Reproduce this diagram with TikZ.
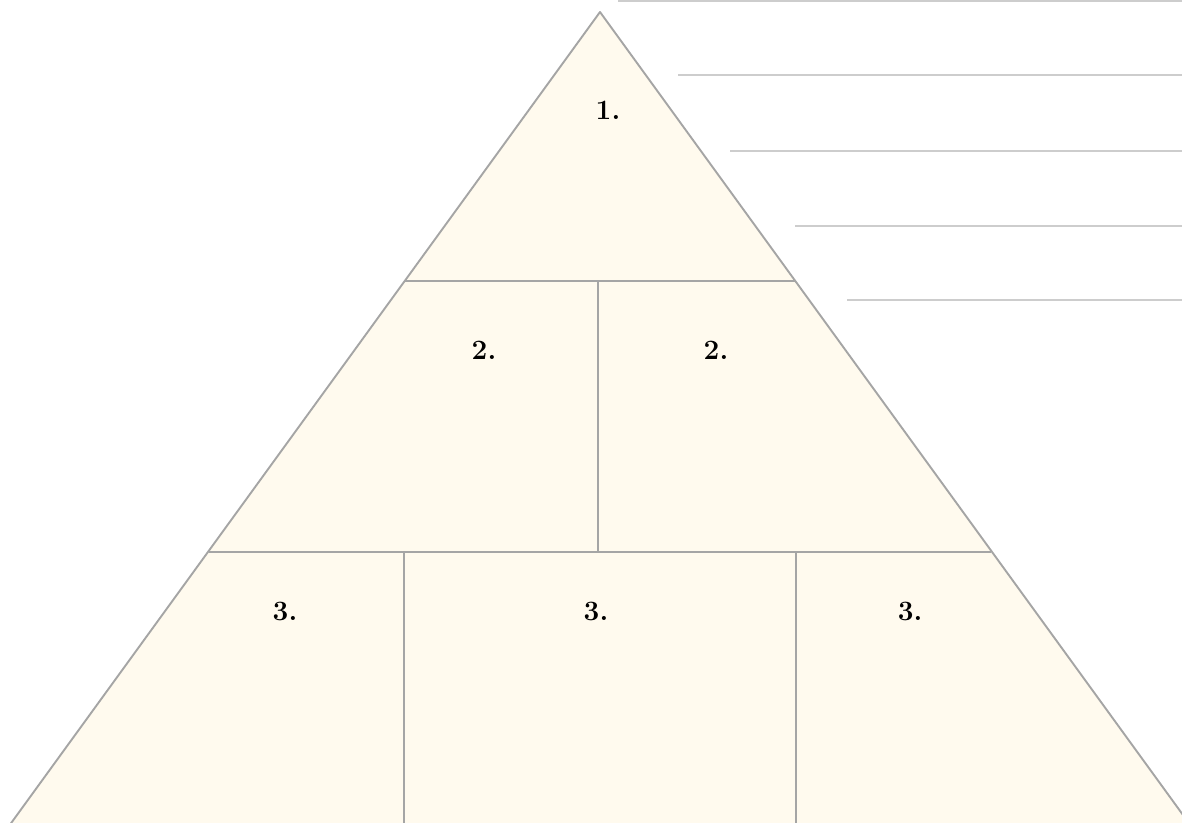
\documentclass[tikz,border=0pt]{standalone}
\usepackage{fontspec}
\usepackage{tikz}
\usetikzlibrary{positioning,calc}

\definecolor{pyrfill}{RGB}{255,250,238}
\definecolor{pyredge}{RGB}{165,165,165}
\definecolor{ruleline}{RGB}{205,205,205}

\begin{document}
\begin{tikzpicture}[x=1pt, y=-1pt,
    edge/.style={draw=pyredge, line width=1.9pt, line join=round},
    tier/.style={font=\fontsize{28}{32}\selectfont\bfseries, inner sep=0pt},
    rule/.style={draw=ruleline, line width=2pt},
  ]
  \useasboundingbox (0,0) rectangle (1182,822);
  \clip (0,0) rectangle (1182,822);

  % pyramid outline
  \coordinate (apex) at (600,12);
  \coordinate (bl) at (9,826);
  \coordinate (br) at (1191,826);
  \filldraw[edge, fill=pyrfill] (apex) -- (br) -- (bl) -- cycle;

  % tiers
  \draw[edge] (405,281) -- (795,281);
  \draw[edge] (209,552) -- (991,552);
  \draw[edge] (598,281) -- (598,552);
  \draw[edge] (404,552) -- (404,826);
  \draw[edge] (796,552) -- (796,826);

  \node[tier] (t1) at (608,110) {1.};
  \node[tier] (t2a) at (484,350) {2.};
  \node[tier] (t2b) at (716,350) {2.};
  \node[tier] (t3a) at (285,611) {3.};
  \node[tier] (t3b) at (596,611) {3.};
  \node[tier] (t3c) at (910,611) {3.};

  % writing lines
  \draw[rule] (618,0.5) -- (1182,0.5);
  \draw[rule] (678,75) -- (1182,75);
  \draw[rule] (730,151) -- (1182,151);
  \draw[rule] (795,226) -- (1182,226);
  \draw[rule] (847,300) -- (1182,300);
\end{tikzpicture}
\end{document}
